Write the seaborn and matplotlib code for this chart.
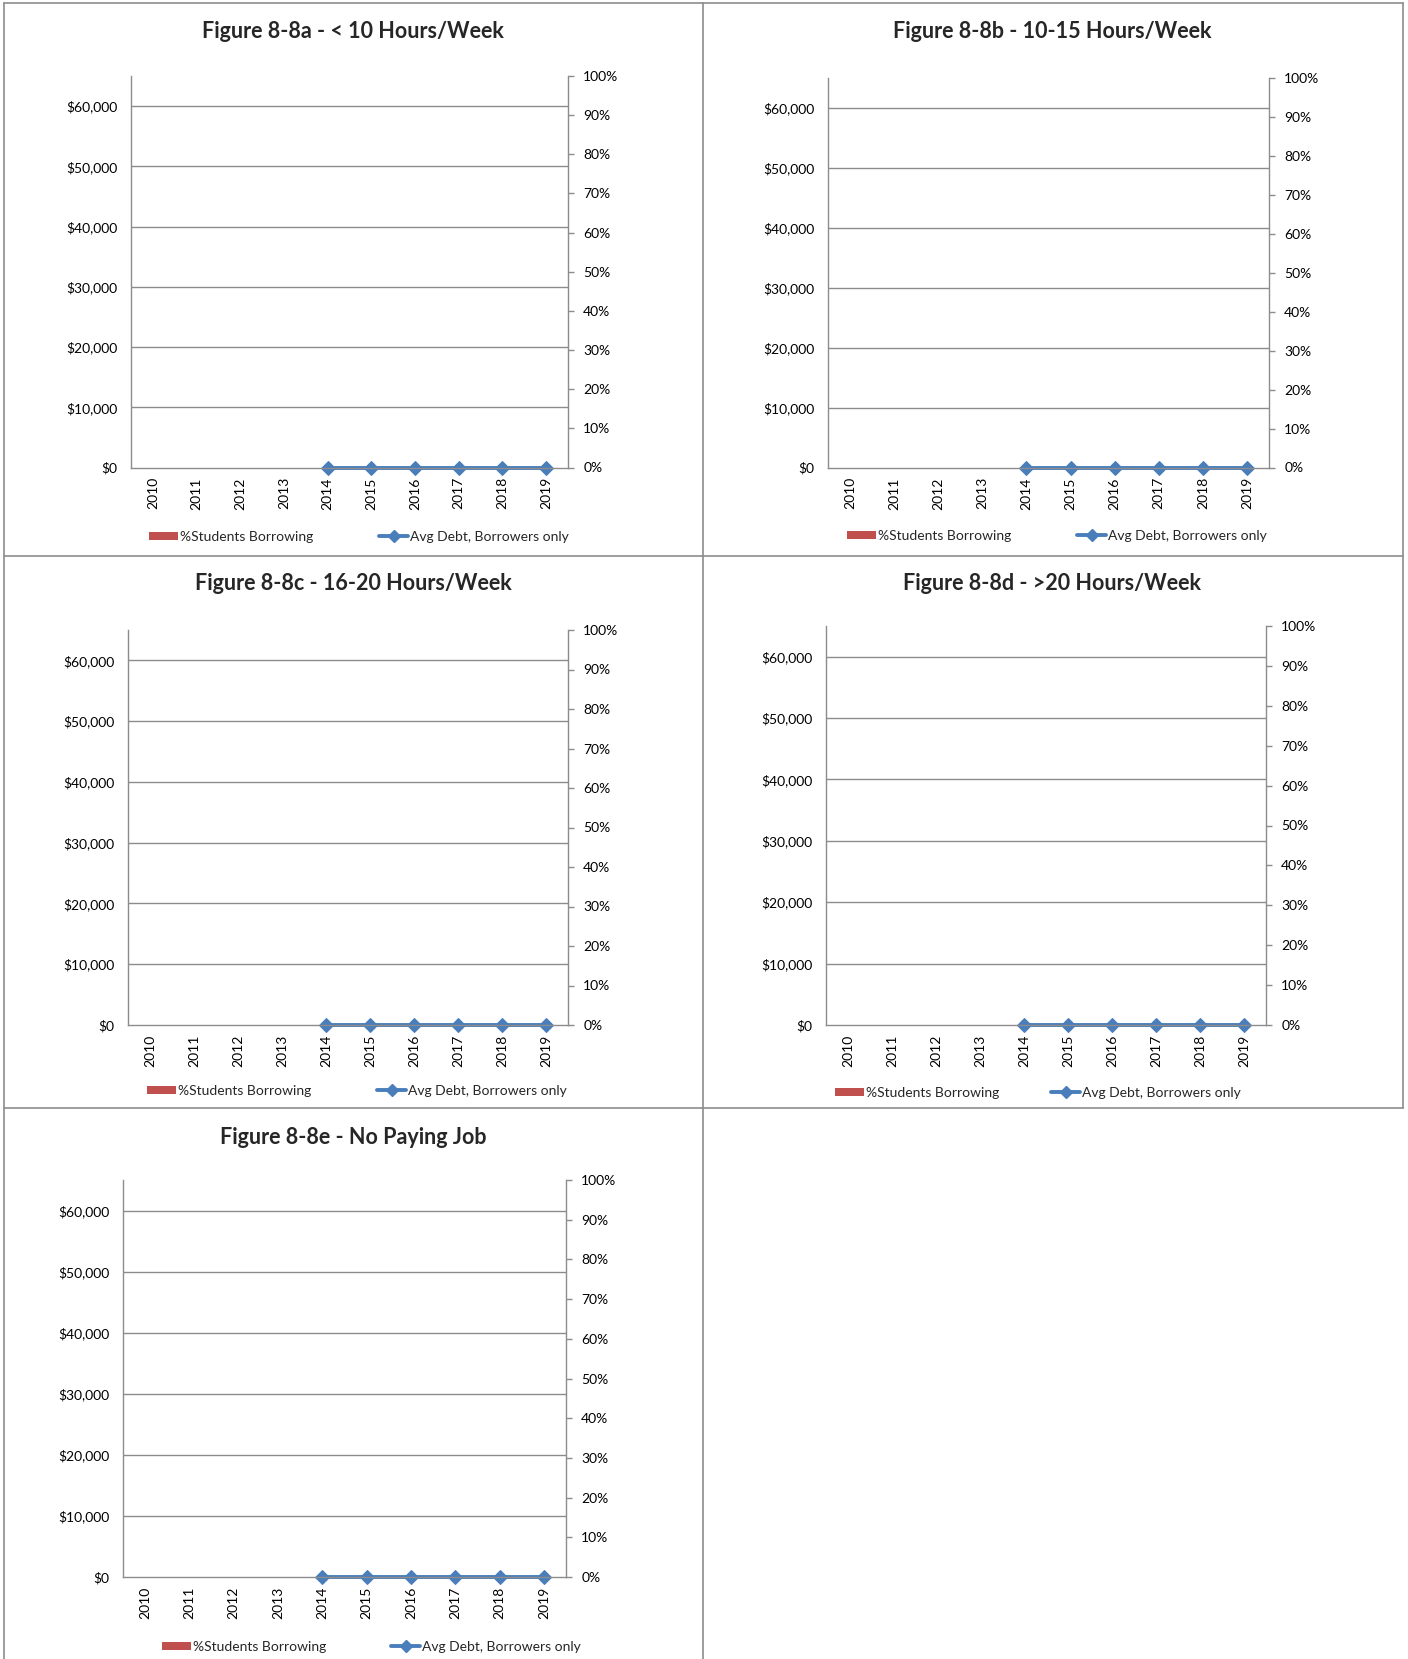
import numpy as np
import pandas as pd
import matplotlib
matplotlib.use("Agg")
import matplotlib.pyplot as plt
from matplotlib.lines import Line2D
from matplotlib.patches import Patch
import seaborn as sns

sns.set_theme(style="white")
plt.rcParams['font.family'] = ['Lato', 'DejaVu Sans']

# ---- data ----
years = ["2010", "2011", "2012", "2013", "2014", "2015", "2016", "2017", "2018", "2019"]
titles = ["Figure 8-8a - < 10 Hours/Week", "Figure 8-8b - 10-15 Hours/Week",
          "Figure 8-8c - 16-20 Hours/Week", "Figure 8-8d - >20 Hours/Week",
          "Figure 8-8e - No Paying Job"]
pct_borrowing = [0, 0, 0, 0, 0, 0, 0, 0, 0, 0]
avg_debt = [np.nan, np.nan, np.nan, np.nan, 0, 0, 0, 0, 0, 0]
debt_ticks = [0, 10000, 20000, 30000, 40000, 50000, 60000]
pct_ticks = [0, 10, 20, 30, 40, 50, 60, 70, 80, 90, 100]

BAR_COLOR = "#C0504D"
LINE_COLOR = "#4A7EBB"
GRID = "#8C8C8C"

W, H = 1408, 1659
fig = plt.figure(figsize=(W / 100, H / 100), dpi=100)

def fx(x): return x / W
def fy(y): return 1 - y / H

# axes boxes in pixel coords: left, right, top, bottom
boxes = [(131, 568, 76, 467.5), (828, 1269, 78, 467.5),
         (128, 568, 630, 1025), (826, 1266, 626, 1025),
         (123, 566, 1180, 1577)]
title_pos = [(353, 32), (1052, 32), (353, 584), (1052, 584), (353, 1137)]
legend_pos = [(149, 379, 537), (847, 1077, 536), (147, 377, 1091),
              (835, 1051, 1093), (162, 391, 1647)]

df = pd.DataFrame({"pos": np.arange(len(years)), "year": years,
                   "pct": pct_borrowing, "debt": avg_debt})

for i in range(5):
    l, r, t, b = boxes[i]
    ax = fig.add_axes([fx(l), fy(b), (r - l) / W, (b - t) / H])
    ax2 = ax.twinx()
    # bars on secondary axis
    sns.barplot(data=df, x="pos", y="pct", ax=ax2, color=BAR_COLOR,
                native_scale=True, width=0.6, saturation=1)
    ax2.set_ylim(0, 100)
    ax2.set_yticks(pct_ticks)
    ax2.set_yticklabels([f"{v}%" for v in pct_ticks])
    ax2.set_ylabel("")
    # line on primary axis
    sns.lineplot(data=df.dropna(), x="pos", y="debt", ax=ax, color=LINE_COLOR,
                 marker="D", markersize=7, linewidth=2.8,
                 markeredgecolor=LINE_COLOR, clip_on=False)
    ax.set_zorder(ax2.get_zorder() + 1)
    ax.patch.set_visible(False)
    ax.set_ylim(0, 65000)
    ax.set_xlim(-0.5, len(years) - 0.5)
    ax.set_yticks(debt_ticks)
    ax.set_yticklabels([f"${v:,.0f}" for v in debt_ticks])
    ax.set_xticks(df["pos"])
    ax.set_xticklabels(years, rotation=90)
    ax.set_xlabel("")
    ax.set_ylabel("")
    for v in debt_ticks[1:]:
        ax.axhline(v, color=GRID, lw=1.0, zorder=0)
    for a in (ax, ax2):
        for s in a.spines.values():
            s.set_visible(False)
    ax.spines["left"].set_visible(True)
    ax.spines["bottom"].set_visible(True)
    ax2.spines["right"].set_visible(True)
    for s in (ax.spines["left"], ax.spines["bottom"], ax2.spines["right"]):
        s.set_color(GRID)
        s.set_linewidth(1.0)
    ax.tick_params(axis="y", length=0, pad=10, labelsize=10, colors="black")
    ax.tick_params(axis="x", length=0, pad=7, labelsize=10, colors="black")
    ax2.tick_params(axis="y", length=4, width=1, color=GRID, pad=7,
                    labelsize=10, labelcolor="black", direction="out")
    ax2.set_xlim(-0.5, len(years) - 0.5)

    tx, ty = title_pos[i]
    fig.text(fx(tx), fy(ty), titles[i], ha="center", va="center",
             fontsize=15.5, fontweight="bold")

    p1, p2, ly = legend_pos[i]
    fig.legend(handles=[Patch(facecolor=BAR_COLOR, edgecolor="none")],
               labels=["%Students Borrowing"], loc="center left",
               bbox_to_anchor=(fx(p1), fy(ly)), frameon=False,
               borderpad=0, borderaxespad=0, handlelength=2.1,
               handleheight=0.55, handletextpad=0.15, fontsize=10)
    fig.legend(handles=[Line2D([0], [0], color=LINE_COLOR, lw=2.8,
                               marker="D", markersize=6)],
               labels=["Avg Debt, Borrowers only"], loc="center left",
               bbox_to_anchor=(fx(p2), fy(ly)), frameon=False,
               borderpad=0, borderaxespad=0, handlelength=2.1,
               handletextpad=0.15, fontsize=10)

# panel frame lines
def hline(y, x0, x1):
    fig.add_artist(Line2D([fx(x0), fx(x1)], [fy(y), fy(y)], color="#8C8C8C", lw=1.2))
def vline(x, y0, y1):
    fig.add_artist(Line2D([fx(x), fx(x)], [fy(y0), fy(y1)], color="#8C8C8C", lw=1.2))

hline(3, 4, 1403)
hline(556, 4, 1403)
hline(1108, 4, 1403)
vline(4, 3, 1659)
vline(703, 3, 1659)
vline(1403, 3, 1108)

fig.savefig("out.png", dpi=100)
